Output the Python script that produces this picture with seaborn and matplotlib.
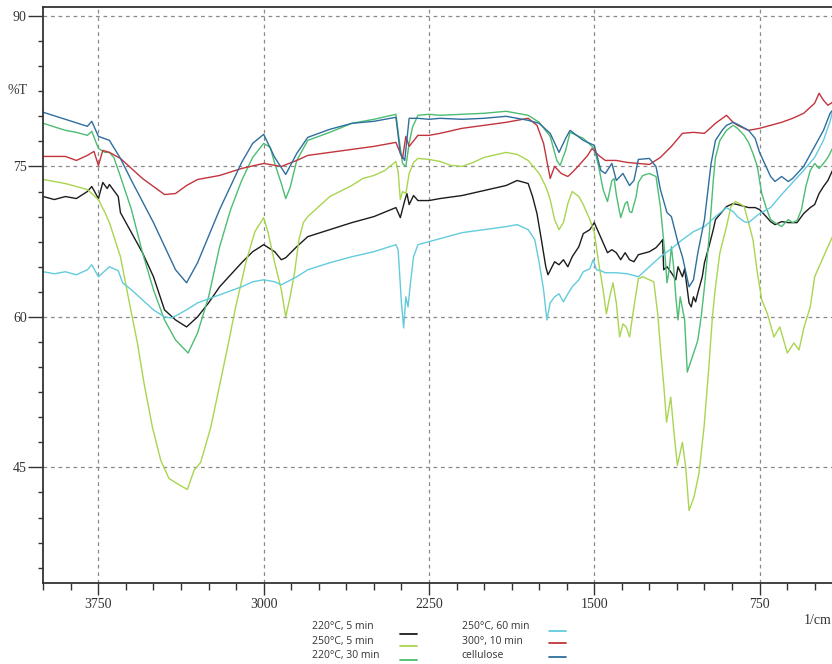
import numpy as np
import pandas as pd
import matplotlib
matplotlib.use("Agg")
import matplotlib.pyplot as plt
from matplotlib.lines import Line2D
from matplotlib.ticker import MultipleLocator, FixedLocator
import seaborn as sns

# ---------------- data (wavenumber 1/cm, %T) ----------------
series_names = ["220°C, 5 min", "250°C, 5 min", "220°C, 30 min",
                "250°C, 60 min", "300°, 10 min", "cellulose"]

cell_wn = [4000, 3900, 3800, 3780, 3750, 3700, 3650, 3600, 3500, 3400, 3350, 3300, 3200, 3100, 3050,
           3000, 2950, 2900, 2850, 2800, 2700, 2600, 2500, 2400, 2380, 2360, 2340, 2300, 2250, 2200,
           2100, 2000, 1900, 1800, 1750, 1700, 1660, 1630, 1610, 1550, 1500, 1470, 1450, 1420, 1400,
           1370, 1340, 1320, 1300, 1250, 1220, 1200, 1170, 1150, 1120, 1100, 1070, 1050, 1030, 1000,
           970, 950, 920, 900, 870, 850, 800, 770, 750, 700, 680, 650, 620, 600, 550, 500, 460, 430, 419]
cell_t = [80.4, 79.7, 79.0, 79.5, 78.0, 77.6, 75.8, 73.6, 69.4, 64.7, 63.4, 65.4, 70.7, 75.4, 77.3,
          78.2, 75.9, 74.2, 76.3, 77.9, 78.7, 79.3, 79.5, 79.9, 76.3, 75.6, 79.8, 79.8, 79.7, 79.8,
          79.7, 79.8, 80.0, 79.6, 79.3, 78.3, 76.4, 77.8, 78.6, 77.6, 77.1, 74.6, 74.3, 75.3, 73.6,
          74.3, 73.1, 73.6, 75.7, 75.8, 75.0, 72.7, 70.4, 70.0, 67.4, 66.0, 63.0, 63.7, 66.4, 69.7,
          75.3, 77.6, 78.6, 79.1, 79.4, 79.2, 78.6, 77.8, 76.4, 74.0, 73.5, 74.0, 73.5, 73.8, 75.0,
          77.0, 78.6, 80.3, 80.6]

red_wn = [4000, 3900, 3850, 3800, 3770, 3750, 3730, 3700, 3650, 3600, 3550, 3500, 3450, 3400, 3350,
          3300, 3200, 3100, 3000, 2920, 2850, 2800, 2700, 2600, 2500, 2400, 2370, 2355, 2340, 2300,
          2250, 2200, 2100, 2000, 1900, 1800, 1760, 1730, 1700, 1680, 1650, 1620, 1600, 1570, 1530,
          1510, 1480, 1450, 1400, 1350, 1300, 1250, 1200, 1150, 1100, 1050, 1000, 950, 900, 870,
          850, 800, 750, 700, 650, 600, 550, 500, 480, 460, 440, 419]
red_t = [76.0, 76.0, 75.6, 76.1, 76.5, 75.1, 76.6, 76.4, 75.8, 74.8, 73.8, 73.0, 72.2, 72.3, 73.1,
         73.7, 74.1, 74.8, 75.3, 75.0, 75.6, 76.1, 76.4, 76.7, 77.0, 77.4, 75.8, 78.0, 77.0, 78.1,
         78.1, 78.3, 78.8, 79.1, 79.4, 79.8, 79.1, 77.3, 73.8, 75.0, 74.3, 74.0, 74.4, 75.1, 76.1,
         76.8, 76.1, 75.6, 75.6, 75.4, 75.3, 75.2, 75.9, 77.0, 78.3, 78.4, 78.3, 79.3, 80.1, 79.4,
         79.1, 78.6, 78.8, 79.1, 79.4, 79.8, 80.3, 81.3, 82.3, 81.6, 81.1, 81.4]

blk_wn = [4000, 3950, 3900, 3850, 3800, 3780, 3750, 3730, 3710, 3700, 3680, 3660, 3650, 3600, 3550,
          3500, 3450, 3400, 3350, 3300, 3250, 3200, 3100, 3050, 3000, 2950, 2920, 2900, 2850, 2800,
          2700, 2600, 2500, 2400, 2380, 2360, 2350, 2340, 2320, 2300, 2250, 2200, 2100, 2000, 1900,
          1850, 1800, 1780, 1760, 1740, 1720, 1710, 1680, 1660, 1640, 1620, 1600, 1570, 1550, 1520,
          1500, 1480, 1460, 1440, 1420, 1400, 1380, 1360, 1340, 1320, 1300, 1250, 1220, 1200, 1190,
          1185, 1170, 1150, 1130, 1120, 1100, 1090, 1070, 1060, 1050, 1040, 1030, 1010, 1000, 980,
          960, 950, 900, 870, 850, 800, 770, 750, 720, 700, 680, 650, 620, 600, 580, 550, 520, 500,
          480, 460, 440, 419]
blk_t = [72.0, 71.7, 72.0, 71.8, 72.5, 73.0, 71.8, 73.4, 72.8, 73.2, 72.6, 72.0, 70.4, 68.4, 66.4,
         64.0, 60.7, 59.7, 59.0, 60.0, 61.4, 63.0, 65.4, 66.5, 67.2, 66.5, 65.7, 65.9, 67.0, 68.0,
         68.7, 69.4, 70.0, 70.9, 69.9, 71.6, 72.3, 71.2, 72.1, 71.6, 71.6, 71.8, 72.1, 72.6, 73.1,
         73.6, 73.3, 72.0, 70.3, 67.7, 65.0, 64.2, 65.5, 65.2, 65.7, 65.0, 66.0, 67.0, 68.3, 68.7,
         69.4, 68.4, 67.4, 66.4, 66.7, 66.4, 65.7, 66.4, 65.7, 65.5, 66.2, 66.5, 66.9, 67.4, 67.7,
         64.7, 65.0, 64.4, 63.7, 65.0, 64.0, 64.8, 61.4, 61.0, 62.0, 61.5, 62.4, 64.0, 65.4, 67.0,
         68.7, 69.7, 71.0, 71.3, 71.2, 70.9, 70.9, 70.7, 70.0, 69.5, 69.2, 69.5, 69.4, 69.4, 69.4,
         70.3, 70.9, 71.2, 72.3, 73.0, 73.6, 74.6]

cyan_wn = [4000, 3950, 3900, 3850, 3800, 3780, 3750, 3700, 3660, 3640, 3600, 3550, 3500, 3450, 3420,
           3400, 3350, 3300, 3200, 3100, 3050, 3000, 2950, 2920, 2850, 2800, 2700, 2600, 2500, 2400,
           2390, 2375, 2365, 2355, 2345, 2335, 2320, 2300, 2250, 2200, 2100, 2000, 1900, 1850, 1800,
           1770, 1750, 1730, 1715, 1700, 1680, 1660, 1640, 1620, 1600, 1570, 1550, 1520, 1505, 1490,
           1470, 1450, 1400, 1350, 1300, 1250, 1200, 1150, 1100, 1050, 1000, 950, 900, 870, 850,
           820, 800, 750, 700, 650, 600, 550, 500, 460, 430, 419]
cyan_t = [64.5, 64.3, 64.5, 64.2, 64.7, 65.2, 64.0, 65.0, 64.6, 63.4, 62.7, 61.7, 60.7, 60.0, 59.9,
          60.1, 60.7, 61.4, 62.2, 63.0, 63.5, 63.7, 63.5, 63.2, 64.0, 64.7, 65.4, 66.0, 66.5, 67.2,
          66.7, 61.4, 58.9, 62.0, 61.0, 63.2, 66.0, 67.2, 67.5, 67.8, 68.4, 68.7, 69.0, 69.2, 68.7,
          67.7, 65.4, 62.7, 59.7, 61.4, 62.0, 62.3, 61.5, 62.3, 63.0, 63.7, 64.5, 64.8, 65.7, 64.7,
          64.6, 64.4, 64.4, 64.3, 64.0, 65.0, 66.0, 66.8, 67.7, 68.5, 69.0, 70.0, 70.9, 70.5, 70.0,
          69.5, 69.4, 70.3, 70.9, 72.2, 73.4, 74.6, 75.9, 77.6, 79.5, 80.5]

grn_wn = [4000, 3900, 3850, 3800, 3780, 3750, 3720, 3700, 3680, 3650, 3600, 3550, 3500, 3450, 3400,
          3343, 3300, 3250, 3200, 3150, 3100, 3050, 3000, 2970, 2950, 2920, 2900, 2880, 2850, 2800,
          2700, 2600, 2500, 2400, 2385, 2370, 2355, 2340, 2325, 2300, 2250, 2200, 2100, 2000, 1900,
          1800, 1750, 1700, 1670, 1655, 1630, 1610, 1550, 1500, 1480, 1460, 1440, 1420, 1410, 1400,
          1390, 1380, 1360, 1350, 1340, 1330, 1310, 1300, 1280, 1250, 1220, 1200, 1190, 1180, 1170,
          1160, 1150, 1140, 1130, 1120, 1110, 1090, 1078, 1060, 1040, 1030, 1015, 1000, 980, 960,
          950, 930, 900, 870, 850, 820, 800, 780, 760, 750, 740, 720, 700, 680, 650, 620, 600, 580,
          560, 540, 520, 500, 480, 460, 440, 419]
grn_t = [79.3, 78.6, 78.4, 78.1, 78.5, 76.8, 76.4, 76.4, 75.9, 74.0, 70.7, 66.4, 62.7, 59.7, 57.7,
         56.4, 58.4, 62.0, 67.0, 70.7, 73.6, 75.9, 77.3, 76.9, 75.3, 73.3, 71.8, 72.9, 75.6, 77.6,
         78.4, 79.3, 79.7, 80.2, 77.6, 75.3, 75.0, 77.3, 78.9, 80.1, 80.2, 80.1, 80.2, 80.3, 80.5,
         80.1, 79.4, 78.0, 75.6, 75.1, 76.6, 78.4, 77.8, 76.8, 75.0, 72.7, 71.5, 73.6, 73.8, 72.2,
         71.0, 69.9, 71.3, 71.5, 70.5, 70.4, 72.0, 73.4, 74.1, 74.3, 74.0, 71.0, 68.7, 66.4, 63.4,
         64.7, 67.0, 65.0, 62.0, 59.7, 62.0, 59.7, 54.5, 55.7, 57.0, 57.7, 60.0, 63.0, 67.7, 73.6,
         75.9, 77.6, 78.6, 79.1, 78.8, 78.1, 77.4, 76.3, 75.0, 73.6, 72.3, 70.9, 69.7, 69.4, 69.0,
         69.7, 69.4, 69.6, 70.7, 73.0, 74.6, 75.3, 74.8, 75.3, 75.9, 76.8]

lg_wn = [4000, 3900, 3800, 3750, 3720, 3700, 3650, 3612, 3573, 3543, 3505, 3467, 3430, 3380, 3346,
         3316, 3286, 3240, 3195, 3157, 3127, 3080, 3040, 3000, 2980, 2950, 2920, 2900, 2880, 2860,
         2840, 2820, 2800, 2750, 2700, 2600, 2550, 2500, 2450, 2400, 2390, 2380, 2370, 2355, 2340,
         2320, 2300, 2250, 2200, 2150, 2100, 2050, 2000, 1900, 1850, 1800, 1750, 1720, 1700, 1680,
         1660, 1640, 1620, 1600, 1570, 1550, 1520, 1500, 1480, 1460, 1445, 1430, 1415, 1400, 1385,
         1370, 1355, 1340, 1320, 1300, 1280, 1250, 1230, 1212, 1199, 1184, 1172, 1153, 1138, 1123,
         1100, 1085, 1070, 1048, 1025, 1002, 980, 964, 950, 930, 900, 880, 860, 840, 820, 800, 780,
         760, 740, 714, 685, 658, 624, 594, 571, 548, 520, 500, 470, 450, 419]
lg_t = [73.7, 73.3, 72.7, 71.7, 70.4, 69.4, 66.0, 61.7, 57.4, 53.4, 49.0, 45.7, 43.9, 43.2, 42.8,
        44.7, 45.5, 49.0, 53.7, 57.7, 61.0, 65.5, 68.5, 69.9, 68.4, 65.4, 62.7, 60.0, 62.0, 64.4,
        67.7, 69.4, 70.0, 71.0, 72.0, 73.1, 73.8, 74.1, 74.6, 75.5, 74.5, 71.7, 72.5, 72.3, 74.3,
        75.4, 75.8, 75.7, 75.5, 75.1, 75.0, 75.4, 75.9, 76.4, 76.2, 75.6, 74.3, 73.0, 71.7, 69.7,
        68.7, 69.4, 71.3, 72.5, 72.0, 71.2, 69.7, 68.4, 65.4, 62.7, 60.3, 62.0, 63.4, 61.4, 58.0,
        59.3, 59.0, 58.0, 61.0, 63.8, 64.0, 63.7, 63.5, 60.3, 56.7, 53.0, 49.5, 52.0, 48.4, 45.2,
        47.5, 45.0, 40.7, 42.0, 44.4, 49.0, 55.0, 60.0, 63.0, 66.4, 69.0, 71.0, 71.5, 71.3, 71.0,
        69.4, 67.7, 64.4, 61.7, 60.3, 58.0, 59.0, 56.4, 57.4, 56.7, 59.0, 61.0, 64.0, 65.5, 66.5, 68.0]

series_wn = [blk_wn, lg_wn, grn_wn, cyan_wn, red_wn, cell_wn]
series_t = [blk_t, lg_t, grn_t, cyan_t, red_t, cell_t]
colors = ["#1c1c1c", "#a9d550", "#4cbd72", "#62cbdc", "#c3343c", "#2f6e9e"]

x_major = [3750, 3000, 2250, 1500, 750]
y_major = [90, 75, 60, 45]

frames = []
for name, w, t in zip(series_names, series_wn, series_t):
    frames.append(pd.DataFrame({"wn": w, "T": t, "series": name}))
df = pd.concat(frames, ignore_index=True)

# ---------------- figure ----------------
sns.set_style("white")
plt.rcParams["font.family"] = ["Liberation Serif", "DejaVu Serif"]

W, H = 832, 664
fig = plt.figure(figsize=(W / 100, H / 100), dpi=100)
x0, x1, y_top, y_bot = 43.3, 836.7, 7, 583
ax = fig.add_axes([x0 / W, 1 - y_bot / H, (x1 - x0) / W, (y_bot - y_top) / H])

sns.lineplot(data=df, x="wn", y="T", hue="series", hue_order=series_names,
             palette=dict(zip(series_names, colors)), estimator=None, sort=True,
             legend=False, linewidth=1.0, ax=ax)

ax.set_xlim(4000, 400)
ax.set_ylim(90 - 567 / 10.03, 90 + 9 / 10.03)
ax.set_xlabel("")
ax.set_ylabel("")

ax.xaxis.set_major_locator(FixedLocator(x_major))
ax.xaxis.set_minor_locator(MultipleLocator(125))
ax.yaxis.set_major_locator(FixedLocator(y_major))
ax.yaxis.set_minor_locator(MultipleLocator(2.5))

ax.tick_params(axis="y", which="major", direction="out", length=10.5, width=1.0,
               color="#333333", labelsize=10, labelcolor="#333333", pad=1.5, left=True)
ax.tick_params(axis="y", which="minor", direction="out", length=3.8, width=1.0,
               color="#333333", left=True)
ax.tick_params(axis="x", which="major", direction="out", length=8.5, width=1.0,
               color="#333333", labelsize=10, labelcolor="#333333", pad=2, bottom=True)
ax.tick_params(axis="x", which="minor", direction="out", length=5, width=1.0,
               color="#333333", bottom=True)

ax.grid(True, which="major", linestyle=(0, (3, 3)), color="#8a8a8a", linewidth=0.9)
for s in ["left", "bottom", "top"]:
    ax.spines[s].set_color("#333333")
    ax.spines[s].set_linewidth(1.3)
ax.spines["right"].set_visible(False)

fig.text(7 / W, 1 - 91 / H, "%T", fontsize=10, color="#333333", ha="left", va="center")
fig.text(831 / W, 1 - 621 / H, "1/cm", fontsize=10, color="#333333", ha="right", va="center")

# ---------------- legend (below the plot) ----------------
leg_font = ["Open Sans", "DejaVu Sans"]
col_text_x = [311.5 / W, 461.5 / W]
col_line_x = [(400, 417), (549, 566)]
row_text_y = [627, 641.5, 655.5]
row_line_y = [[634, 646, 660], [631, 643, 657]]
for i, (name, c) in enumerate(zip(series_names, colors)):
    col, row = i // 3, i % 3
    fig.text(col_text_x[col], 1 - row_text_y[row] / H, name, fontsize=7.5,
             family=leg_font, color="#333333", ha="left", va="center")
    lx0, lx1 = col_line_x[col]
    ly = 1 - row_line_y[col][row] / H
    fig.add_artist(Line2D([lx0 / W, lx1 / W], [ly, ly], transform=fig.transFigure,
                          color=c, linewidth=1.3))

fig.savefig("out.png", dpi=100)
